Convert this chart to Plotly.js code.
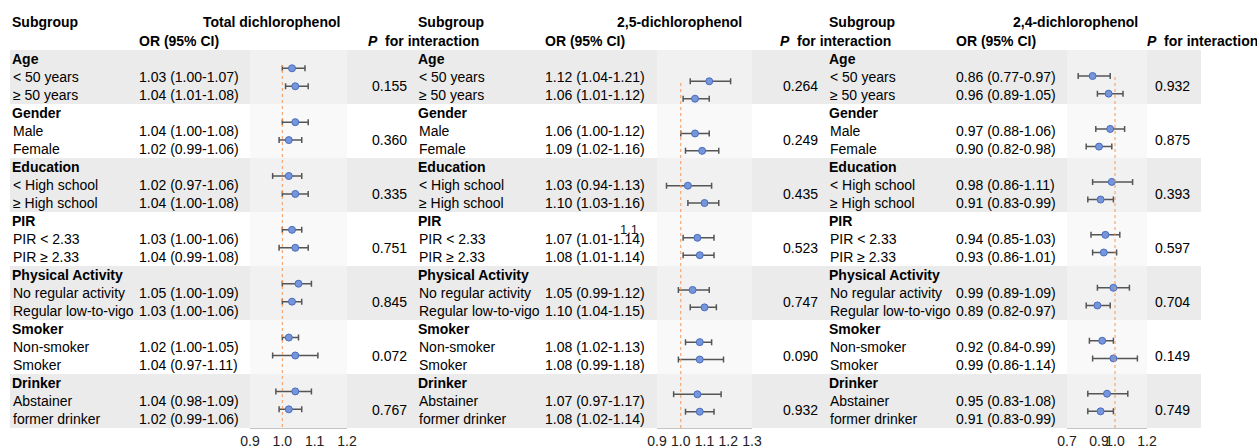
<!DOCTYPE html>
<html>
<head>
<meta charset="utf-8">
<script src="https://cdn.plot.ly/plotly-3.0.1.min.js"></script>
<style>html,body{margin:0;padding:0;background:#fff;}#chart{width:1257px;height:446px;}</style>
</head>
<body>
<div id="chart"></div>
<script>
// ---------------- DATA ----------------
const groups = ["Age", "Gender", "Education", "PIR", "Physical Activity", "Smoker", "Drinker"];
const subgroups = ["< 50 years", "\u2265 50 years", "Male", "Female", "< High school", "\u2265 High school",
  "PIR < 2.33", "PIR \u2265 2.33", "No regular activity", "Regular low-to-vigo", "Non-smoker", "Smoker",
  "Abstainer", "former drinker"];

const exposures = ["Total dichlorophenol", "2,5-dichlorophenol", "2,4-dichlorophenol"];

const totalOR = [1.03, 1.04, 1.04, 1.02, 1.02, 1.04, 1.03, 1.04, 1.05, 1.03, 1.02, 1.04, 1.04, 1.02];
const totalLo = [1.00, 1.01, 1.00, 0.99, 0.97, 1.00, 1.00, 0.99, 1.00, 1.00, 1.00, 0.97, 0.98, 0.99];
const totalHi = [1.07, 1.08, 1.08, 1.06, 1.06, 1.08, 1.06, 1.08, 1.09, 1.06, 1.05, 1.11, 1.09, 1.06];
const totalP = ["0.155", "0.360", "0.335", "0.751", "0.845", "0.072", "0.767"];

const dcp25OR = [1.12, 1.06, 1.06, 1.09, 1.03, 1.10, 1.07, 1.08, 1.05, 1.10, 1.08, 1.08, 1.07, 1.08];
const dcp25Lo = [1.04, 1.01, 1.00, 1.02, 0.94, 1.03, 1.01, 1.01, 0.99, 1.04, 1.02, 0.99, 0.97, 1.02];
const dcp25Hi = [1.21, 1.12, 1.12, 1.16, 1.13, 1.16, 1.14, 1.14, 1.12, 1.15, 1.13, 1.18, 1.17, 1.14];
const dcp25P = ["0.264", "0.249", "0.435", "0.523", "0.747", "0.090", "0.932"];

const dcp24OR = [0.86, 0.96, 0.97, 0.90, 0.98, 0.91, 0.94, 0.93, 0.99, 0.89, 0.92, 0.99, 0.95, 0.91];
const dcp24Lo = [0.77, 0.89, 0.88, 0.82, 0.86, 0.83, 0.85, 0.86, 0.89, 0.82, 0.84, 0.86, 0.83, 0.83];
const dcp24Hi = [0.97, 1.05, 1.06, 0.98, 1.11, 0.99, 1.03, 1.01, 1.09, 0.97, 0.99, 1.14, 1.08, 0.99];
const dcp24P = ["0.932", "0.875", "0.393", "0.597", "0.704", "0.149", "0.749"];

const ticks1 = [0.9, 1.0, 1.1, 1.2];
const ticks2 = [0.9, 1.0, 1.1, 1.2, 1.3];
const ticks3 = [0.7, 0.9, 1.0, 1.2];
const refValue = 1.0;

// ---------------- LAYOUT CONFIG ----------------
const W = 1257, H = 446;
const AXIS_PX = 428;            // bottom of forest area in px
const FONT = "Liberation Sans, Arial, sans-serif";
const rowY = r => 59 + 18 * r;  // text row pixel center
const py = p => 1 - p / H;      // pixel -> paper
const pxX = p => p / W;

const panels = [
  {name: exposures[0], or: totalOR, lo: totalLo, hi: totalHi, p: totalP, ticks: ticks1, range: [0.9, 1.2],
   plot: [250, 347], lab: 11, orx: 137, pc: 389, titleR: 342, phead: 366, ptA: 17.95, ptB: 50.35, ref: [65, 427]},
  {name: exposures[1], or: dcp25OR, lo: dcp25Lo, hi: dcp25Hi, p: dcp25P, ticks: ticks2, range: [0.9, 1.3],
   plot: [657, 752], lab: 417, orx: 543, pc: 800, titleR: 744, phead: 778, ptA: 17.39, ptB: 63.9, ref: [81, 428]},
  {name: exposures[2], or: dcp24OR, lo: dcp24Lo, hi: dcp24Hi, p: dcp24P, ticks: ticks3, range: [0.7, 1.2],
   plot: [1067, 1147], lab: 828, orx: 954, pc: 1172, titleR: 1140, phead: 1145, ptA: 17.65, ptB: 58.35, ref: [76, 428]}
];

const subRow = i => 3 * Math.floor(i / 2) + 1 + (i % 2);

const traces = [];
const annotations = [];
const shapes = [];
const layout = {
  width: W, height: H,
  margin: {l: 0, r: 0, t: 0, b: 0},
  paper_bgcolor: "#ffffff",
  plot_bgcolor: "rgba(0,0,0,0)",
  showlegend: false,
  font: {family: FONT, size: 14, color: "#000"},
  annotations: annotations,
  shapes: shapes
};

// background bands (gray for alternate groups)
for (let g = 0; g < groups.length; g++) {
  const top = rowY(3 * g) - 9, bot = rowY(3 * g + 2) + 9;
  if (g % 2 === 0) {
    shapes.push({type: "rect", xref: "paper", yref: "paper", x0: pxX(10), x1: pxX(1201),
      y0: py(bot), y1: py(top), fillcolor: "#ebebeb", line: {width: 0}, layer: "below"});
  }
  panels.forEach(pn => {
    shapes.push({type: "rect", xref: "paper", yref: "paper", x0: pxX(pn.plot[0]), x1: pxX(pn.plot[1]),
      y0: py(bot), y1: py(top), fillcolor: g % 2 === 0 ? "#f1f1f1" : "#f9f9f9", line: {width: 0}, layer: "below"});
  });
}

function txt(x, yPix, text, opts) {
  annotations.push(Object.assign({
    xref: "paper", yref: "paper", x: pxX(x), y: py(yPix), text: text, showarrow: false,
    xanchor: "left", yanchor: "middle", font: {family: FONT, size: 14, color: "#000"}
  }, opts || {}));
}

panels.forEach((pn, k) => {
  const xa = k === 0 ? "xaxis" : "xaxis" + (k + 1);
  const ya = k === 0 ? "yaxis" : "yaxis" + (k + 1);
  const xs = k === 0 ? "x" : "x" + (k + 1);
  const ys = k === 0 ? "y" : "y" + (k + 1);

  // headers
  txt(pn.lab - 1, 22.5, "<b>Subgroup</b>");
  txt(pn.titleR, 22.5, "<b>" + pn.name + "</b>", {xanchor: "right"});
  txt(pn.orx, 41.5, "<b>OR (95% CI)</b>");
  txt(pn.phead, 41.5, "<b><i>P</i>&nbsp; for interaction</b>");

  // groups, subgroups, OR text, p values
  groups.forEach((g, gi) => {
    txt(pn.lab - 1, rowY(3 * gi), "<b>" + g + "</b>");
    txt(pn.pc, (rowY(3 * gi + 1) + rowY(3 * gi + 2)) / 2, pn.p[gi], {xanchor: "center"});
  });
  subgroups.forEach((s, i) => {
    txt(pn.lab, rowY(subRow(i)), s);
    txt(pn.orx, rowY(subRow(i)),
      pn.or[i].toFixed(2) + " (" + pn.lo[i].toFixed(2) + "-" + pn.hi[i].toFixed(2) + ")");
  });

  // axes
  layout[xa] = {
    domain: [pxX(pn.plot[0]), pxX(pn.plot[1])], range: pn.range, anchor: ys,
    showgrid: false, zeroline: false, showline: true, linecolor: "#c4c4c4", linewidth: 1,
    ticks: "", tickvals: pn.ticks, ticktext: pn.ticks.map(v => v.toFixed(1)), tickangle: 0,
    tickfont: {family: FONT, size: 14, color: "#222"}, fixedrange: true
  };
  const rTop = -pn.ptB / pn.ptA, rBot = (AXIS_PX - pn.ptB) / pn.ptA;
  layout[ya] = {
    domain: [1 - AXIS_PX / H, 1], range: [rBot, rTop], anchor: xs, visible: false,
    showgrid: false, zeroline: false, fixedrange: true
  };

  // reference line
  shapes.push({type: "line", xref: xs, yref: "paper", x0: refValue, x1: refValue,
    y0: py(pn.ref[1]), y1: py(pn.ref[0]), line: {color: "#f09a5e", width: 1, dash: "dot"}});

  // points + CI
  traces.push({
    type: "scatter", mode: "markers", xaxis: xs, yaxis: ys,
    x: pn.or, y: subgroups.map((s, i) => subRow(i)),
    error_x: {type: "data", symmetric: false,
      array: pn.or.map((v, i) => pn.hi[i] - v), arrayminus: pn.or.map((v, i) => v - pn.lo[i]),
      color: "#555555", thickness: 1.5, width: 3},
    marker: {size: 7, color: "#7596db", line: {color: "#4a6cc0", width: 1}},
    hoverinfo: "skip", cliponaxis: false
  });
});

// stray tick label present in the reference
txt(629, 229, "1.1", {xanchor: "center", font: {family: FONT, size: 13, color: "#222"}});

Plotly.newPlot("chart", traces, layout, {staticPlot: true, displayModeBar: false});
</script>
</body>
</html>
